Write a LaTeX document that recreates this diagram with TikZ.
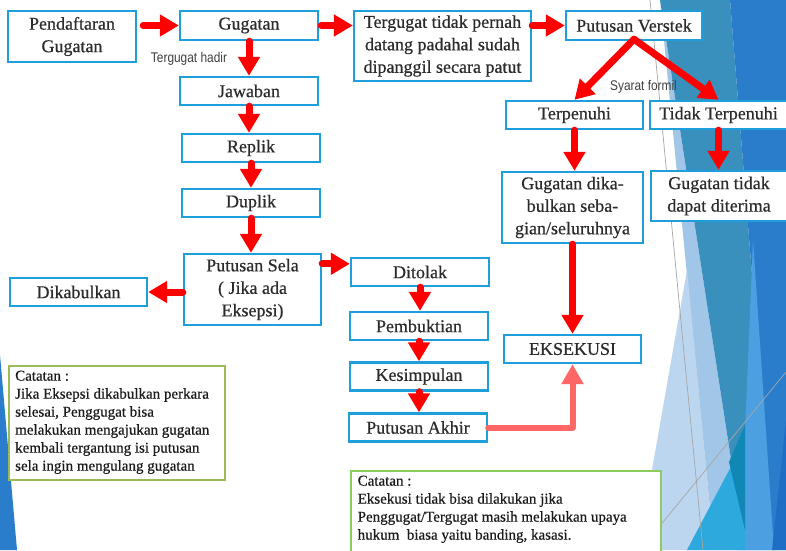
\documentclass[tikz,border=0pt]{standalone}
\usepackage{fontspec}
\setmainfont[FakeBold=0.5]{Liberation Serif}
\newfontfamily\lblfont[FakeStretch=0.85]{Liberation Sans}
\usetikzlibrary{arrows.meta}
\definecolor{boxblue}{HTML}{1E9FDC}
\definecolor{txt}{HTML}{2B2B2B}
\definecolor{notetxt}{HTML}{1A1A1A}
\definecolor{lbltxt}{HTML}{404040}
\definecolor{arrred}{HTML}{FF0000}
\definecolor{softred}{HTML}{FF6666}
\definecolor{noteolive}{HTML}{9BBB59}
\definecolor{notegreen}{HTML}{8CCB5E}
\definecolor{bgteal}{HTML}{3A90BD}
\definecolor{bgblue}{HTML}{2A7DCB}
\definecolor{bglight}{HTML}{BCD6EF}
\definecolor{bgmed}{HTML}{A2C6E8}
\definecolor{bgcyan}{HTML}{2DA9DE}
\definecolor{bgltblue}{HTML}{4C9FE0}
\definecolor{bgdkteal}{HTML}{1087B5}
\definecolor{bgdkblue}{HTML}{1F6EC6}
\definecolor{bgline}{HTML}{A6A6A6}
\begin{document}
\begin{tikzpicture}[x=1pt,y=-1pt,
  box/.style={draw=boxblue, line width=2.4pt, fill=white, text=txt, align=center, inner sep=0pt, font=\fontsize{18}{22.5}\selectfont},
  arr/.style={draw=arrred, line width=7pt, line cap=round, -{Triangle[length=19pt,width=21pt]}},
  arrsoft/.style={draw=softred, line width=6pt, line cap=round, line join=round, -{Triangle[length=20pt,width=21pt]}},
  lbl/.style={text=lbltxt, font=\lblfont\fontsize{14}{16}\selectfont, inner sep=0pt},
  note/.style={line width=2.4pt, fill=white, text=notetxt, inner sep=0pt, align=left, anchor=north west, font=\fontsize{15}{18}\selectfont}
]
\useasboundingbox (0,0) rectangle (786,550);
\clip (0,0) rectangle (786,550);
% background facets
\fill[white] (0,0) rectangle (786,550);
\fill[bgblue] (0,355) -- (17,550) -- (0,550) -- cycle;
\fill[bgmed] (660,0) -- (745,550) -- (714,550) -- cycle;
\fill[bglight] (687,270) -- (714,550) -- (638,550) -- cycle;
\fill[bgteal] (660,0) -- (730,0) -- (752,275) -- (745,550) -- cycle;
\fill[bgblue] (730,0) -- (786,0) -- (786,550) -- (745,550) -- (752,275) -- cycle;
\fill[bgltblue] (753,240) -- (774,550) -- (740,550) -- cycle;
\fill[bgdkblue] (786,420) -- (786,550) -- (772,550) -- cycle;
\fill[bgcyan] (745,440) -- (745,550) -- (687,550) -- cycle;
\fill[bgdkteal] (745,425) -- (745,530) -- (729,462) -- cycle;
\draw[bgline, line width=0.7pt] (650,0) -- (703,550);
\draw[bgline, line width=0.7pt] (645,544) -- (786,372);

% boxes
\node[box, minimum width=128pt, minimum height=51pt] (pend) at (72,36.5) {Pendaftaran\\Gugatan};
\node[box, minimum width=138pt, minimum height=29pt] (gug) at (249,25.5) {Gugatan};
\node[box, minimum width=177pt, minimum height=70pt] (terg) at (442.5,46) {Tergugat tidak pernah\\datang padahal sudah\\dipanggil secara patut};
\node[box, minimum width=136pt, minimum height=29pt] (verstek) at (634,25.5) {Putusan Verstek};
\node[box, minimum width=138pt, minimum height=28pt] (jaw) at (249,91) {Jawaban};
\node[box, minimum width=138pt, minimum height=28pt] (rep) at (251,148) {Replik};
\node[box, minimum width=138pt, minimum height=28pt] (dup) at (251,203) {Duplik};
\node[box, minimum width=137pt, minimum height=71pt] (sela) at (252.5,289.5) {Putusan Sela\\( Jika ada\\Eksepsi)};
\node[box, minimum width=137pt, minimum height=28pt] (dikab) at (78.5,292) {Dikabulkan};
\node[box, minimum width=138pt, minimum height=28pt] (ditolak) at (420,272) {Ditolak};
\node[box, minimum width=138pt, minimum height=28pt] (pemb) at (419,326) {Pembuktian};
\node[box, minimum width=138pt, minimum height=28pt] (kesim) at (419,376.5) {Kesimpulan};
\node[box, minimum width=138pt, minimum height=28pt] (akhir) at (418,427.5) {Putusan Akhir};
\node[box, minimum width=137pt, minimum height=28pt] (terpenuhi) at (574.5,115) {Terpenuhi};
\node[box, minimum width=137pt, minimum height=28pt] (tidak) at (718.5,115) {Tidak Terpenuhi};
\node[box, minimum width=141pt, minimum height=71pt] (gdika) at (572.5,207.5) {Gugatan dika-\\bulkan seba-\\gian/seluruhnya};
\node[box, minimum width=136pt, minimum height=50pt] (gtidak) at (719,196) {Gugatan tidak\\dapat diterima};
\node[box, minimum width=137pt, minimum height=28pt] (eks) at (572.5,349) {EKSEKUSI};

% notes
\node[note, draw=noteolive, minimum width=216pt, minimum height=114pt] (n1) at (8,365)
  {\hspace*{4pt}\parbox[t][111pt][t]{208pt}{\vspace{3pt}Catatan :\\Jika Eksepsi dikabulkan perkara\\selesai, Penggugat bisa\\melakukan mengajukan gugatan\\kembali tergantung isi putusan\\sela ingin mengulang gugatan}};
\node[note, draw=notegreen, minimum width=310pt, minimum height=100pt] (n2) at (350,470)
  {\hspace*{5pt}\parbox[t][97pt][t]{302pt}{\vspace{3pt}Catatan :\\Eksekusi tidak bisa dilakukan jika\\Penggugat/Tergugat masih melakukan upaya\\hukum\ \ biasa yaitu banding, kasasi.}};

% labels
\node[lbl] (th) at (189,59) {Tergugat hadir};
\node[lbl] (sf) at (643.5,87) {Syarat formil};

% arrows
\coordinate (s1) at ([yshift=-11pt]sela.north east);
\draw[arr, shorten <=6pt] (pend.east |- gug.west) -- (gug.west);
\draw[arr, shorten <=2pt] (gug.east) -- (gug.east -| terg.west);
\draw[arr] (terg.east |- verstek.west) -- (verstek.west);
\draw[arr] (gug.south) -- (jaw.north);
\draw[arr] (jaw.south) -- (jaw.south |- rep.north);
\draw[arr] (rep.south) -- (dup.north);
\draw[arr] (dup.south) -- (dup.south |- sela.north);
\draw[arr] (s1) -- (s1 -| ditolak.west);
\draw[arr] (sela.west |- dikab.east) -- (dikab.east);
\draw[arr] (ditolak.south) -- (ditolak.south |- pemb.north);
\draw[arr] (pemb.south) -- (kesim.north);
\draw[arr] (kesim.south) -- (kesim.south |- akhir.north);
\draw[arr] ([yshift=2pt]verstek.south) -- (terpenuhi.north);
\draw[arr] ([yshift=2pt]verstek.south) -- (tidak.north);
\draw[arr] (terpenuhi.south) -- (terpenuhi.south |- gdika.north);
\draw[arr] (tidak.south) -- (tidak.south |- gtidak.north);
\draw[arr] (gdika.south) -- (eks.north);
\draw[arrsoft] (akhir.east) -| (eks.south);
\end{tikzpicture}
\end{document}
